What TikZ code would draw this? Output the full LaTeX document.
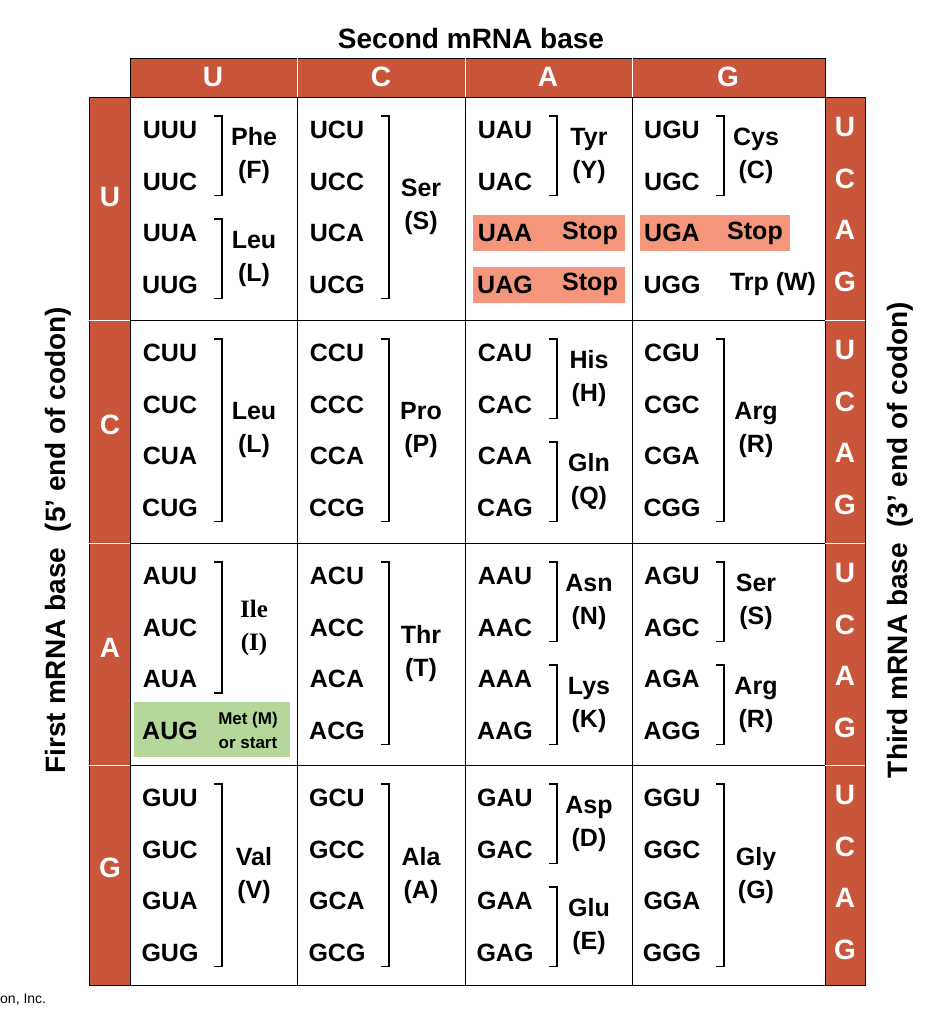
\documentclass[tikz,border=0pt]{standalone}
\usepackage{fontspec}
\setmainfont{Liberation Sans}
\newfontfamily\serifb{Liberation Serif}
\definecolor{hred}{HTML}{C9553A}
\definecolor{salm}{HTML}{F4967B}
\definecolor{grn}{HTML}{B5D89A}
\tikzset{
 cod/.style={font=\fontsize{25}{30}\selectfont\bfseries, inner sep=0pt},
 aa/.style={font=\fontsize{25}{33}\selectfont\bfseries, align=center, inner sep=0pt},
 hdr/.style={font=\fontsize{28}{30}\selectfont\bfseries, text=white, inner sep=0pt},
 brk/.style={line width=1.2pt},
 bar/.style={fill=hred, draw=black, line width=0.8pt},
}
\newcommand\blk[6]{% colx, rowtop, four codons
 \foreach \c [count=\k from 0] in {#3,#4,#5,#6}{
  \node[cod] at (#1+40,#2+33+51.5*\k) {\c};}}
\newcommand\grp[5]{%
 \pgfmathsetmacro\ya{#2+33+51.5*#3-14}
 \pgfmathsetmacro\yb{#2+33+51.5*#4+14}
 \pgfmathsetmacro\bx{#1+92}
 \pgfmathsetmacro\ym{(\ya+\yb)/2}
 \draw[brk] (\bx-8,\ya) -- (\bx,\ya) -- (\bx,\yb) -- (\bx-8,\yb);
 \node[aa] at (#1+124,\ym) {#5};}
\begin{document}
\begin{tikzpicture}[x=1pt,y=-1pt]
\useasboundingbox (0,0) rectangle (937,1015);
\node[font=\fontsize{28}{30}\selectfont\bfseries] (title) at (471,38) {Second mRNA base};
% top bar
\draw[bar] (130,58) rectangle (825,97);
\foreach \a in {297,465,632} \draw[white, line width=1pt] (\a,58) -- (\a,97);
\node[hdr] at (213,77) {U};
\node[hdr] at (381,77) {C};
\node[hdr] at (548,77) {A};
\node[hdr] at (728,77) {G};
% highlights
\fill[salm] (473,215) rectangle (625,251);
\fill[salm] (473,267) rectangle (625,303);
\fill[salm] (640,215) rectangle (790,251);
\fill[grn] (134,702) rectangle (290,757);
% grid
\draw[line width=1pt] (130,97) rectangle (825,985);
\foreach \a in {297,465,632} \draw[line width=1pt] (\a,97) -- (\a,985);
\foreach \b in {320,543,765} \draw[line width=1pt] (130,\b) -- (825,\b);
% side bars
\draw[bar] (89,97) rectangle (130,985);
\draw[bar] (825,97) rectangle (865,985);
\foreach \b in {320,543,765} {\draw[white,line width=1pt] (89,\b) -- (130,\b); \draw[white,line width=1pt] (825,\b) -- (865,\b);}
\foreach \t/\y in {U/197,C/425,A/648,G/868} \node[hdr] at (110,\y) {\t};
\foreach \r in {97,320,543,765}
 \foreach \t [count=\k from 0] in {U,C,A,G}
  \node[hdr] at (845,\r+30+51.5*\k) {\t};
% side titles
\node[font=\fontsize{28}{30}\selectfont\bfseries, rotate=90] (lt) at (58,540) {First mRNA base\ \ (5\textquoteright\ end of codon)};
\node[font=\fontsize{28}{30}\selectfont\bfseries, rotate=90] (rt) at (900,540) {Third mRNA base\ \ (3\textquoteright\ end of codon)};
\node[anchor=west, font=\fontsize{14}{16}\selectfont, inner sep=0pt] (cr) at (0,1000) {on, Inc.};
% row U
\blk{130}{97}{UUU}{UUC}{UUA}{UUG}
\grp{130}{97}{0}{1}{Phe\\(F)}
\grp{130}{97}{2}{3}{Leu\\(L)}
\blk{297}{97}{UCU}{UCC}{UCA}{UCG}
\grp{297}{97}{0}{3}{Ser\\(S)}
\blk{465}{97}{UAU}{UAC}{UAA}{UAG}
\grp{465}{97}{0}{1}{Tyr\\(Y)}
\node[cod] at (590,233) {Stop};
\node[cod] at (590,284) {Stop};
\blk{632}{97}{UGU}{UGC}{UGA}{UGG}
\grp{632}{97}{0}{1}{Cys\\(C)}
\node[cod] at (755,233) {Stop};
\node[cod] at (773,284) {Trp (W)};
% row C
\blk{130}{320}{CUU}{CUC}{CUA}{CUG}
\grp{130}{320}{0}{3}{Leu\\(L)}
\blk{297}{320}{CCU}{CCC}{CCA}{CCG}
\grp{297}{320}{0}{3}{Pro\\(P)}
\blk{465}{320}{CAU}{CAC}{CAA}{CAG}
\grp{465}{320}{0}{1}{His\\(H)}
\grp{465}{320}{2}{3}{Gln\\(Q)}
\blk{632}{320}{CGU}{CGC}{CGA}{CGG}
\grp{632}{320}{0}{3}{Arg\\(R)}
% row A
\blk{130}{543}{AUU}{AUC}{AUA}{AUG}
\grp{130}{543}{0}{2}{\serifb Ile\\\serifb (I)}
\node[font=\fontsize{17}{24}\selectfont\bfseries, align=center, inner sep=0pt] at (248,730) {Met (M)\\or start};
\blk{297}{543}{ACU}{ACC}{ACA}{ACG}
\grp{297}{543}{0}{3}{Thr\\(T)}
\blk{465}{543}{AAU}{AAC}{AAA}{AAG}
\grp{465}{543}{0}{1}{Asn\\(N)}
\grp{465}{543}{2}{3}{Lys\\(K)}
\blk{632}{543}{AGU}{AGC}{AGA}{AGG}
\grp{632}{543}{0}{1}{Ser\\(S)}
\grp{632}{543}{2}{3}{Arg\\(R)}
% row G
\blk{130}{765}{GUU}{GUC}{GUA}{GUG}
\grp{130}{765}{0}{3}{Val\\(V)}
\blk{297}{765}{GCU}{GCC}{GCA}{GCG}
\grp{297}{765}{0}{3}{Ala\\(A)}
\blk{465}{765}{GAU}{GAC}{GAA}{GAG}
\grp{465}{765}{0}{1}{Asp\\(D)}
\grp{465}{765}{2}{3}{Glu\\(E)}
\blk{632}{765}{GGU}{GGC}{GGA}{GGG}
\grp{632}{765}{0}{3}{Gly\\(G)}
\end{tikzpicture}
\end{document}
